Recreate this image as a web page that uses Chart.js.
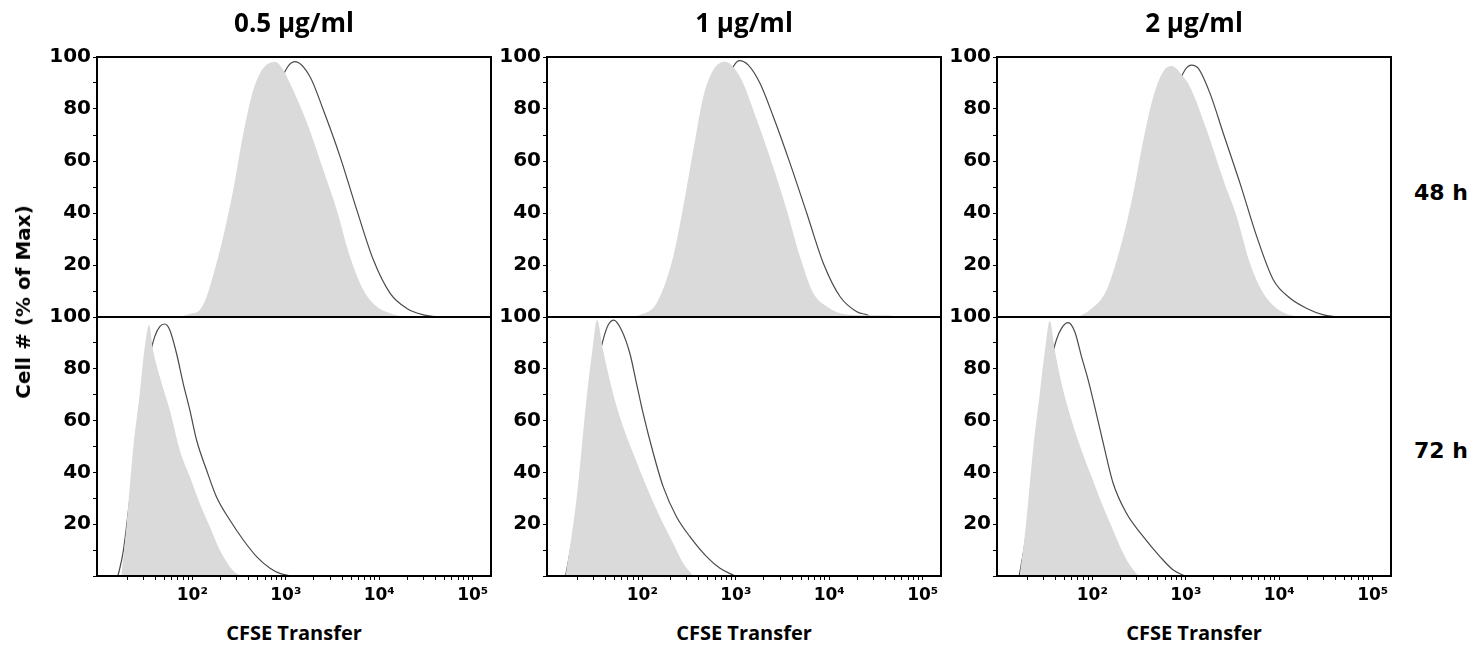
<!doctype html>
<html>

<head>
    <title>CFSE Transfer</title>
    <script src="https://cdn.jsdelivr.net/npm/chart.js"></script>
    <style>
        body { margin: 0; background: #fff; width: 1470px; height: 645px; position: relative; overflow: hidden; }
        .painel { position: absolute; }
        .txt { position: absolute; transform: translate(-50%, -50%); white-space: nowrap; color: #000; font-weight: bold; }
        .titulo { font-family: 'Open Sans', Lato, sans-serif; font-size: 26px; }
        .eixo { font-family: 'Open Sans', Lato, sans-serif; font-size: 20px; }
        .tempo { font-family: 'DejaVu Sans', sans-serif; font-size: 22px; transform: translate(0, -50%); }
        .ylab { font-family: 'DejaVu Sans', sans-serif; font-size: 20px; transform: translate(-50%, -50%) rotate(-90deg); }
    </style>
</head>

<body>

    <script>
        // rótulos
        var concentracoes = ['0.5 µg/ml', '1 µg/ml', '2 µg/ml'];
        var tempos = ['48 h', '72 h'];
        var tituloX = 'CFSE Transfer';
        var tituloY = 'Cell # (% of Max)';

        // ticks do eixo x (log) e do eixo y
        var xTicks = [20, 30, 40, 50, 60, 70, 80, 90,
            100, 200, 300, 400, 500, 600, 700, 800, 900,
            1000, 2000, 3000, 4000, 5000, 6000, 7000, 8000, 9000,
            10000, 20000, 30000, 40000, 50000, 60000, 70000, 80000, 90000, 100000];
        var xTickValores = [100, 1000, 10000, 100000];
        var xTickTextos = ['10²', '10³', '10⁴', '10⁵'];
        var yTicks = [0, 10, 20, 30, 40, 50, 60, 70, 80, 90, 100];
        var yTickTextos = [20, 40, 60, 80, 100];

        // histogramas [intensidade, % of max] - cinza = controle, linha = amostra
        var ctrl48_05 = [[73, 0], [94, 1.2], [120, 2.7], [142, 7.8], [181, 20.6], [214, 30.9], [274, 48.8], [351, 70.6], [449, 87.3], [529, 93.7], [623, 97], [766, 98.2], [940, 95], [1109, 89.9], [1674, 75], [2523, 56.5], [3508, 41.2], [4875, 23.2], [6774, 10.4], [9416, 4], [13090, 1.4], [18160, 0]];
        var cfse48_05 = [[148, 0], [214, 1.4], [297, 10.4], [381, 25.8], [487, 48.8], [623, 69.4], [798, 86], [1021, 95.6], [1255, 98.2], [1816, 92.4], [2523, 79.6], [3808, 61.7], [5750, 41.2], [8666, 21.9], [13090, 9.1], [19760, 3.3], [29790, 0.8], [41410, 0]];

        var ctrl48_1 = [[73, 0], [94, 0.8], [142, 5.3], [214, 23.2], [274, 42.4], [351, 64.2], [449, 84.7], [574, 95], [766, 98.2], [1109, 92.4], [1674, 76], [2523, 57.5], [3508, 41.2], [4875, 23.2], [6774, 9.1], [9416, 4], [13090, 1.4], [18160, 0.8], [25290, 0.7], [46880, 0.6], [47500, 0]];
        var cfse48_1 = [[148, 0], [214, 2.7], [297, 12.9], [381, 28.3], [487, 48.8], [574, 65.5], [706, 83.5], [866, 93.7], [1091, 98.6], [1362, 96.9], [1816, 89.9], [2523, 77], [3808, 59.1], [5750, 39.9], [8666, 20.6], [13090, 7.8], [19760, 2], [25290, 0.8], [28000, 0]];

        var ctrl48_2 = [[70, 0], [94, 2.7], [142, 10.4], [214, 30.9], [274, 47.6], [351, 68], [449, 84.7], [574, 94.4], [706, 96.5], [940, 92.4], [1109, 88.6], [1674, 71.9], [2523, 52.7], [3508, 38.6], [4875, 20.6], [6774, 9.1], [9416, 3.3], [13090, 0.8], [18160, 0]];
        var cfse48_2 = [[140, 0], [214, 2], [297, 10.4], [381, 25.8], [487, 48.8], [623, 70.6], [798, 87.3], [980, 95], [1155, 96.9], [1362, 95.6], [1816, 86], [2523, 70.6], [3808, 51.4], [5750, 30.9], [8666, 14.2], [13090, 7.2], [19760, 3.3], [29790, 0.8], [41410, 0]];

        var ctrl72_05 = [[17.4, 0], [19.7, 19], [23.2, 48.6], [27.4, 70.5], [31, 88.5], [34.5, 96.9], [38, 87.3], [44.8, 77], [57.4, 64.1], [73.5, 48.6], [94, 38.4], [120, 28.1], [154, 19], [197, 10], [252, 3.6], [297, 1], [351, 0]];
        var cfse72_05 = [[16, 0], [18.1, 8.8], [21.4, 29.3], [25.2, 48.6], [29.7, 69.2], [35, 84.7], [39.6, 92.4], [44.8, 96.3], [50.7, 97.3], [57.4, 95], [67.7, 86], [79.8, 74.4], [94, 64.1], [111, 52.5], [142, 40.9], [181, 30.6], [252, 21.6], [351, 13.9], [487, 7.5], [678, 3], [866, 1], [1155, 0]];

        var ctrl72_1 = [[15.1, 0], [19.7, 29.3], [25.2, 68], [29.2, 87.3], [32.8, 98.8], [38, 87.3], [48.6, 70.5], [62.2, 57.7], [79.8, 47.4], [111, 34.5], [154, 22.9], [214, 12.6], [274, 4.9], [351, 0]];
        var cfse72_1 = [[15.1, 0], [19.7, 22.9], [25.2, 52.5], [31, 77], [38, 91.1], [43.1, 96.9], [49.5, 98.8], [59.8, 95], [73.5, 86], [86.6, 74.4], [102, 62.8], [131, 47.4], [167, 34.5], [232, 22.9], [323, 15.2], [487, 7.5], [678, 3], [980, 0]];

        var ctrl72_2 = [[16.7, 0], [19.4, 19], [23.2, 48.6], [27.4, 70.5], [31.8, 89.8], [35, 98.6], [39.6, 87.3], [46.8, 74.4], [59.8, 60.2], [76.6, 48.6], [98, 38.4], [126, 28.1], [161, 19], [206, 10], [252, 4.2], [310, 0]];
        var cfse72_2 = [[16.5, 0], [19, 12.6], [22.3, 31.9], [26.3, 51.2], [31, 68], [36.5, 83.4], [41.2, 91.1], [46.8, 95.6], [55.1, 97.8], [64.9, 94.3], [76.6, 84.7], [90.2, 75.7], [106, 65.4], [131, 51.2], [167, 35.8], [232, 24.2], [351, 15.2], [529, 7.5], [735, 2.3], [980, 0]];

        var controles = [[ctrl48_05, ctrl48_1, ctrl48_2], [ctrl72_05, ctrl72_1, ctrl72_2]];
        var amostras = [[cfse48_05, cfse48_1, cfse48_2], [cfse72_05, cfse72_1, cfse72_2]];

        // posicoes dos paineis na pagina
        var esquerdas = [97, 547, 997];
        var topos = [57, 317];
        var alturas = [260, 259];
        var largura = 394;
        var eixoY = 70, folga = 20, eixoX = 40;

        function texto(cls, str, x, y) {
            var d = document.createElement('div');
            d.className = 'txt ' + cls;
            d.textContent = str;
            d.style.left = x + 'px';
            d.style.top = y + 'px';
            document.body.appendChild(d);
        }

        // moldura preta em volta da area do grafico
        var moldura = {
            id: 'moldura',
            afterDraw: function (chart) {
                var a = chart.chartArea, c = chart.ctx;
                c.save();
                c.strokeStyle = '#000';
                c.lineWidth = 2;
                c.strokeRect(a.left, a.top, a.right - a.left, a.bottom - a.top);
                c.restore();
            }
        };

        function pontos(arr) {
            return arr.map(function (p) { return { x: p[0], y: p[1] }; });
        }

        function criarPainel(linha, coluna) {
            var embaixo = linha == 1;
            var div = document.createElement('div');
            div.className = 'painel';
            var w = largura + eixoY + folga;
            var h = alturas[linha] + folga + (embaixo ? eixoX : folga);
            div.style.left = (esquerdas[coluna] - eixoY) + 'px';
            div.style.top = (topos[linha] - folga) + 'px';
            div.style.width = w + 'px';
            div.style.height = h + 'px';
            var canvas = document.createElement('canvas');
            canvas.width = w;
            canvas.height = h;
            div.appendChild(canvas);
            document.body.appendChild(div);

            new Chart(canvas.getContext('2d'), {
                type: 'line',
                data: {
                    datasets: [{
                        label: 'controle',
                        data: pontos(controles[linha][coluna]),
                        fill: 'origin',
                        backgroundColor: '#dadada',
                        borderWidth: 0,
                        pointRadius: 0,
                        cubicInterpolationMode: 'monotone'
                    }, {
                        label: 'amostra',
                        data: pontos(amostras[linha][coluna]),
                        fill: false,
                        borderColor: '#4a4a4a',
                        borderWidth: 1.2,
                        pointRadius: 0,
                        cubicInterpolationMode: 'monotone'
                    }]
                },
                options: {
                    responsive: false,
                    animation: false,
                    layout: { padding: { top: folga, right: folga, left: 0, bottom: embaixo ? 0 : folga } },
                    plugins: { legend: { display: false }, tooltip: { enabled: false } },
                    scales: {
                        x: {
                            type: 'logarithmic',
                            display: embaixo,
                            min: 9.55,
                            max: 157000,
                            afterBuildTicks: function (scale) {
                                scale.ticks = xTicks.map(function (v) { return { value: v }; });
                            },
                            afterFit: function (scale) { scale.height = embaixo ? eixoX : 0; },
                            border: { display: false },
                            grid: { drawOnChartArea: false, drawTicks: true, tickLength: 4, color: '#000', lineWidth: 1 },
                            ticks: {
                                autoSkip: false,
                                maxRotation: 0,
                                padding: 5,
                                color: '#000',
                                font: { family: 'DejaVu Sans', weight: 'bold', size: 17 },
                                callback: function (value) {
                                    var i = xTickValores.indexOf(value);
                                    return i >= 0 ? xTickTextos[i] : '';
                                }
                            }
                        },
                        y: {
                            min: 0,
                            max: 100,
                            afterBuildTicks: function (scale) {
                                scale.ticks = yTicks.map(function (v) { return { value: v }; });
                            },
                            afterFit: function (scale) { scale.width = eixoY; },
                            border: { display: false },
                            grid: { drawOnChartArea: false, drawTicks: true, tickLength: 4, color: '#000', lineWidth: 1 },
                            ticks: {
                                autoSkip: false,
                                padding: 2,
                                color: '#000',
                                font: { family: 'DejaVu Sans', weight: 'bold', size: 20 },
                                callback: function (value) {
                                    return yTickTextos.indexOf(value) >= 0 ? String(value) : '';
                                }
                            }
                        }
                    }
                },
                plugins: [moldura]
            });
        }

        for (var l = 0; l < 2; l++) {
            for (var c = 0; c < 3; c++) {
                criarPainel(l, c);
            }
        }

        for (var i = 0; i < 3; i++) {
            texto('titulo', concentracoes[i], esquerdas[i] + largura / 2, 22);
            texto('eixo', tituloX, esquerdas[i] + largura / 2, 632);
        }
        texto('tempo', tempos[0], 1414, 192);
        texto('tempo', tempos[1], 1414, 450);
        texto('ylab', tituloY, 23, 302);
    </script>
</body>

</html>
